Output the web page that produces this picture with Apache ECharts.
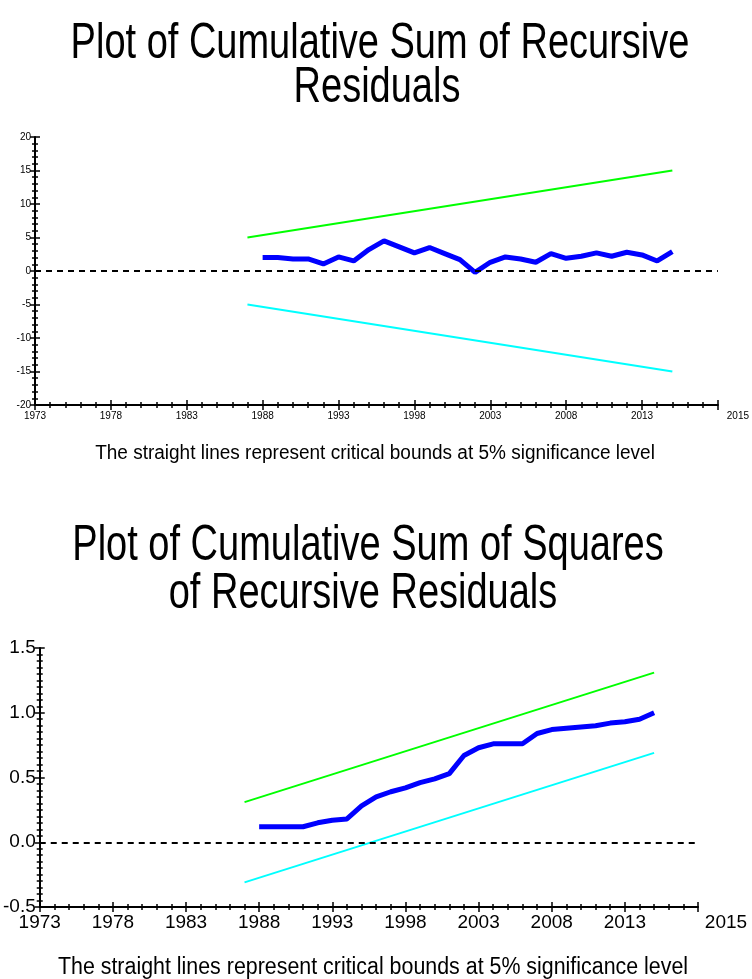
<!DOCTYPE html>
<html><head><meta charset="utf-8">
<script src="https://cdn.jsdelivr.net/npm/echarts@6/dist/echarts.min.js"></script>
<style>html,body{margin:0;padding:0;background:#fff}#c{width:752px;height:979px}</style>
</head><body><div id="c"></div>
<script>
const years = [1988,1989,1990,1991,1992,1993,1994,1995,1996,1997,1998,1999,2000,2001,2002,2003,2004,2005,2006,2007,2008,2009,2010,2011,2012,2013,2014,2015];
const cusum = [2.0,2.0,1.8,1.8,1.05,2.1,1.5,3.2,4.5,3.6,2.7,3.5,2.6,1.7,-0.2,1.3,2.1,1.8,1.3,2.6,1.9,2.2,2.7,2.2,2.8,2.4,1.5,2.9];
const cusumsq = [0.12,0.12,0.12,0.12,0.15,0.17,0.18,0.28,0.35,0.39,0.42,0.46,0.49,0.53,0.67,0.73,0.76,0.76,0.76,0.84,0.87,0.88,0.89,0.90,0.92,0.93,0.95,1.0];
const boundYears = [1987, 2015];
const cusumUpper = [5, 15];
const cusumLower = [-5, -15];
const sqUpper = [0.31, 1.31];
const sqLower = [-0.31, 0.69];
const xMin = 1973, xMax = 2018, xStep = 5, xEndLabel = '2015';
const title1 = ['Plot of Cumulative Sum of Recursive', 'Residuals'];
const title2 = ['Plot of Cumulative Sum of Squares', 'of Recursive Residuals'];
const note = 'The straight lines represent critical bounds at 5% significance level';

const zip = (xs, ys) => xs.map((x, i) => [x, ys[i]]);
const SANS = '"Liberation Sans", Arial, sans-serif';

function xAxes(grid, fs, endPad) {
  const base = {
    type: 'value', gridIndex: grid, min: xMin, max: xMax, interval: xStep, position: 'bottom',
    splitLine: {show: false},
    axisLine: {onZero: false, lineStyle: {color: '#000', width: 2}},
  };
  return [
    Object.assign({}, base, {
      axisTick: {show: true, length: 5, lineStyle: {color: '#000', width: 1.5}},
      minorTick: {show: true, splitNumber: 5, length: 3, lineStyle: {color: '#000', width: 1.5}},
      axisLabel: {color: '#000', fontSize: fs, fontFamily: SANS, margin: 6,
        formatter: v => v === xMax ? '{e|' + xEndLabel + '}' : String(v),
        rich: {e: {fontSize: fs, fontFamily: SANS, color: '#000', padding: [0, 0, 0, endPad]}}}
    }),
    Object.assign({}, base, {
      axisLine: {show: false, onZero: false},
      axisTick: {show: true, inside: true, length: 5, lineStyle: {color: '#000', width: 1.5}},
      minorTick: {show: true, splitNumber: 5, length: 3, lineStyle: {color: '#000', width: 1.5}},
      axisLabel: {show: false}
    })
  ];
}
function yAxes(grid, min, max, interval, minorSplit, fs, fmt) {
  const base = {
    type: 'value', gridIndex: grid, min: min, max: max, interval: interval, position: 'left',
    splitLine: {show: false},
    axisLine: {onZero: false, lineStyle: {color: '#000', width: 2}},
  };
  return [
    Object.assign({}, base, {
      axisTick: {show: true, length: 5, lineStyle: {color: '#000', width: 1.5}},
      minorTick: {show: true, splitNumber: minorSplit, length: 3, lineStyle: {color: '#000', width: 1.5}},
      axisLabel: {color: '#000', fontSize: fs, fontFamily: SANS, margin: 4, formatter: fmt}
    }),
    Object.assign({}, base, {
      axisLine: {show: false, onZero: false},
      axisTick: {show: true, inside: true, length: 5, lineStyle: {color: '#000', width: 1.5}},
      minorTick: {show: true, splitNumber: minorSplit, length: 3, lineStyle: {color: '#000', width: 1.5}},
      axisLabel: {show: false}
    })
  ];
}
function txt(text, x, y, fs, sx) {
  return {type: 'text', x: x, y: y, scaleX: sx, silent: true,
    style: {text: text, fontSize: fs, fontFamily: SANS, fill: '#000', align: 'center', verticalAlign: 'middle'}};
}

const chart = echarts.init(document.getElementById('c'), null, {renderer: 'canvas'});
const zeroLine = {silent: true, symbol: 'none', label: {show: false},
  lineStyle: {color: '#000', type: [6, 5], width: 2}, data: [{yAxis: 0}]};

chart.setOption({
  backgroundColor: '#fff',
  animation: false,
  graphic: [
    txt(title1[0], 380, 44, 50, 0.76),
    txt(title1[1], 377, 88, 50, 0.76),
    txt(title2[0], 368, 546, 50, 0.76),
    txt(title2[1], 363, 594, 50, 0.76),
    txt(note, 375, 453, 20, 0.95),
    txt(note, 373, 968, 23, 0.93)
  ],
  grid: [
    {left: 35, right: 33, top: 137, bottom: 574},
    {left: 37, right: 54, top: 648, bottom: 72}
  ],
  xAxis: [...xAxes(0, 10, 40), ...xAxes(1, 19, 56)],
  yAxis: [...yAxes(0, -20, 20, 5, 5, 10, v => String(v)),
          ...yAxes(1, -0.5, 1.5, 0.5, 10, 19, v => v.toFixed(1))],
  series: [
    {type: 'line', xAxisIndex: 0, yAxisIndex: 0, data: zip(boundYears, cusumUpper), symbol: 'none', lineStyle: {color: '#00ff00', width: 2}, markLine: zeroLine},
    {type: 'line', xAxisIndex: 0, yAxisIndex: 0, data: zip(boundYears, cusumLower), symbol: 'none', lineStyle: {color: '#00ffff', width: 2}},
    {type: 'line', xAxisIndex: 0, yAxisIndex: 0, data: zip(years, cusum), symbol: 'none', lineStyle: {color: '#0000ff', width: 5}},
    {type: 'line', xAxisIndex: 2, yAxisIndex: 2, data: zip(boundYears, sqUpper), symbol: 'none', lineStyle: {color: '#00ff00', width: 2}, markLine: zeroLine},
    {type: 'line', xAxisIndex: 2, yAxisIndex: 2, data: zip(boundYears, sqLower), symbol: 'none', lineStyle: {color: '#00ffff', width: 2}},
    {type: 'line', xAxisIndex: 2, yAxisIndex: 2, data: zip(years, cusumsq), symbol: 'none', lineStyle: {color: '#0000ff', width: 5}}
  ]
});
</script></body></html>
